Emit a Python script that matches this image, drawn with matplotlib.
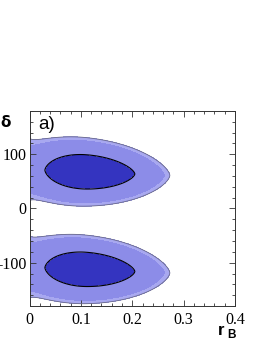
import numpy as np
import matplotlib
matplotlib.use('Agg')
import matplotlib.pyplot as plt
from matplotlib.ticker import MultipleLocator

# ---- chart values ----
x_ticks = [0, 0.1, 0.2, 0.3, 0.4]
x_tick_labels = ['0', '0.1', '0.2', '0.3', '0.4']
y_ticks = [-100, 0, 100]
y_tick_labels = ['-100', '0', '100']
x_range = [0.0, 0.4]
y_range = [-180.0, 180.0]

# likelihood blob description (best fit and widths)
r_best = 0.11
r_sigma_low = 0.08
r_sigma_high = 0.095
phi_best_at_r0 = 72.0
phi_slope = -40.0
phi_sigma_base = 28.0
phi_sigma_k = 0.463
phi_sigma_c = 0.0171
phi_power = 1.56
ambiguity_offsets = [0.0, -180.0]
levels = [0.0, 1.0, 2.65, 2.95]
fill_colors = ['#3434c0', '#8c8ce8', '#a8a8f0']

# ---- figure ----
W, H = 267, 346
fig = plt.figure(figsize=(W / 100, H / 100), dpi=100)
ax = fig.add_axes([29.5 / W, 1 - 306 / H, (235 - 29.5) / W, (306 - 111) / H])

r = np.linspace(x_range[0], x_range[1], 500)
phi = np.linspace(y_range[0], y_range[1], 901)
R, P = np.meshgrid(r, phi)
sig_r = np.where(R < r_best, r_sigma_low, r_sigma_high)
u = (R - r_best) / sig_r
sig_phi = phi_sigma_base + phi_sigma_k / (R + phi_sigma_c)
F = np.full(R.shape, np.inf)
for off in ambiguity_offsets:
    phi0 = phi_best_at_r0 + phi_slope * R + off
    v = np.abs(P - phi0) / sig_phi
    F = np.minimum(F, u ** 2 + v ** phi_power)

ax.contourf(R, P, F, levels=levels, colors=fill_colors)
ax.contour(R, P, F, levels=[levels[-1]], colors=['#6a6a8a'], linewidths=0.6)
ax.contour(R, P, F, levels=[levels[1]], colors=['black'], linewidths=0.8)

ax.set_xlim(*x_range)
ax.set_ylim(*y_range)
ax.set_xticks(x_ticks)
ax.set_xticklabels(x_tick_labels, fontfamily='Liberation Serif', fontsize=11.5)
ax.set_yticks(y_ticks)
ax.set_yticklabels(y_tick_labels, fontfamily='Liberation Serif', fontsize=11.5)
ax.xaxis.set_minor_locator(MultipleLocator(0.02))
ax.yaxis.set_minor_locator(MultipleLocator(20))
ax.tick_params(which='both', direction='in', top=True, right=True, width=0.6, color='#333333')
ax.tick_params(which='major', length=4.5)
ax.tick_params(which='minor', length=2.3)
ax.tick_params(axis='x', pad=4)
ax.tick_params(axis='y', pad=2)
for s in ax.spines.values():
    s.set_linewidth(0.7)
    s.set_color('#333333')

ax.text(0.041, 0.975, 'a)', transform=ax.transAxes, ha='left', va='top',
        fontsize=13.5, family='Liberation Sans')

fig.text(218 / W, 1 - 335 / H, 'r', fontsize=12, fontweight='bold',
         family='Liberation Sans', ha='left', va='baseline')
fig.text(227 / W, 1 - 338.5 / H, 'B', fontsize=8.5, fontweight='bold',
         family='Liberation Sans', ha='left', va='baseline')
fig.text(0.5 / W, 1 - 127 / H, 'δ', fontsize=11, fontweight='bold',
         family='DejaVu Sans', ha='left', va='baseline')

fig.savefig('out.png', dpi=100)
